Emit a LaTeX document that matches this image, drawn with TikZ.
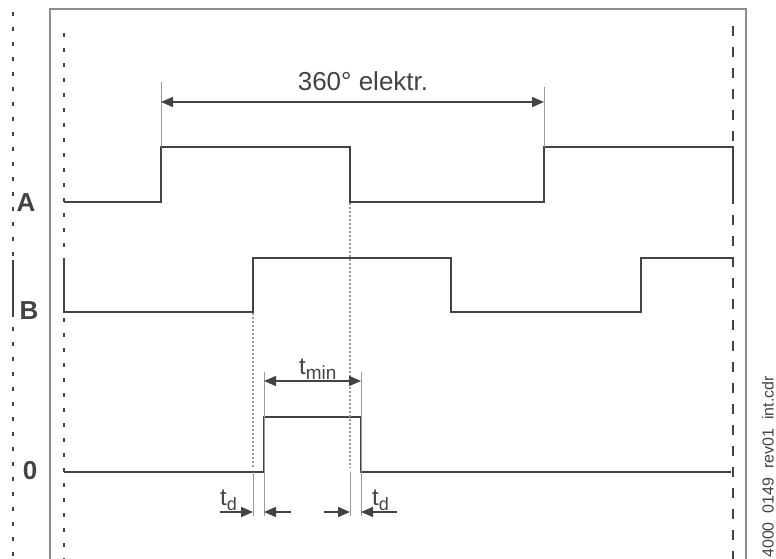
\documentclass[tikz,border=0pt]{standalone}
\usepackage{fontspec}
\setmainfont{Liberation Sans}
\usetikzlibrary{arrows.meta}
\definecolor{ink}{HTML}{434343}
\definecolor{framec}{HTML}{8C8C8C}
\definecolor{faint}{HTML}{9A9A9A}
\begin{document}
\begin{tikzpicture}[x=1pt,y=-1pt,
  sig/.style={draw=ink,line width=2.6pt,line join=miter},
  frameline/.style={draw=framec,line width=1.4pt},
  extline/.style={draw=faint,line width=0.9pt},
  fdot/.style={draw=faint,line width=1.2pt,dash pattern=on 2pt off 2pt},
  bigdot/.style={draw=ink,line width=2pt,dash pattern=on 4pt off 11pt},
  bigdash/.style={draw=ink,line width=2pt,dash pattern=on 10pt off 11pt},
  dimarrow/.style={draw=ink,line width=1.5pt,-{Triangle[length=12pt,width=10pt]}},
  dimboth/.style={draw=ink,line width=1.5pt,{Triangle[length=12pt,width=10pt]}-{Triangle[length=12pt,width=10pt]}},
  lbl/.style={text=ink,inner sep=0pt,font=\fontsize{26}{26}\selectfont\bfseries},
  txt/.style={text=ink,inner sep=0pt}
]
\useasboundingbox (0,0) rectangle (776,559);
% frame
\draw[frameline] (50,559) -- (50,9) -- (746,9) -- (746,559);
% guide lines
\draw[bigdot] (13,12) -- (13,559);
\draw[draw=ink,line width=2pt] (13,260) -- (13,317);
\draw[bigdot] (64,33) -- (64,559);
\draw[bigdash] (733,26) -- (733,559);
% signals
\draw[sig] (64,202) -- (161,202) -- (161,147) -- (350,147) -- (350,202) -- (544,202) -- (544,147) -- (733,147) -- (733,203);
\draw[sig] (64,258) -- (64,312) -- (253,312) -- (253,258) -- (451,258) -- (451,312) -- (641,312) -- (641,258) -- (733,258);
\draw[sig] (64,472) -- (264,472) -- (264,417) -- (361,417) -- (361,472) -- (731,472);
% labels
\node[lbl] (la) at (26,203) {A};
\node[lbl] (lb) at (29,311) {B};
\node[lbl] (l0) at (30,471) {0};
% 360 dimension
\coordinate (e1t) at (161,82);  \coordinate (e1b) at (161,147);
\coordinate (e2t) at (544,87);  \coordinate (e2b) at (544,147);
\draw[extline] (e1t) -- (e1b);
\draw[extline] (e2t) -- (e2b);
\coordinate (d1) at (161,102); \coordinate (d2) at (544,102);
\draw[dimboth] (d1) -- (d2);
\node[txt,anchor=base,font=\fontsize{26}{26}\selectfont] (t360) at (363,91) {360° elektr.};
% dotted projections
\draw[fdot] (350,203) -- (350,468);
\draw[fdot] (253,313) -- (253,468);
% extension lines
\draw[extline] (253,472) -- (253,516);
\draw[extline] (350,472) -- (350,516);
\draw[extline] (264,372) -- (264,516);
\draw[extline] (361,372) -- (361,516);
% tmin
\coordinate (m1) at (264,381); \coordinate (m2) at (361,381);
\draw[dimboth] (m1) -- (m2);
\node[txt,anchor=base west] (tmin) at (299,374) {\fontsize{24}{24}\selectfont t\raisebox{-5pt}{\fontsize{19}{19}\selectfont min}};
% td arrows
\coordinate (a1s) at (220,512); \coordinate (a1e) at (253,512);
\coordinate (a2s) at (291,512); \coordinate (a2e) at (264,512);
\coordinate (a3s) at (324,512); \coordinate (a3e) at (350,512);
\coordinate (a4s) at (397,512); \coordinate (a4e) at (361,512);
\draw[dimarrow] (a1s) -- (a1e);
\draw[dimarrow] (a2s) -- (a2e);
\draw[dimarrow] (a3s) -- (a3e);
\draw[dimarrow] (a4s) -- (a4e);
\node[txt,anchor=base west] (td1) at (220,505) {\fontsize{24}{24}\selectfont t\raisebox{-5pt}{\fontsize{18}{18}\selectfont d}};
\node[txt,anchor=base west] (td2) at (372,505) {\fontsize{24}{24}\selectfont t\raisebox{-5pt}{\fontsize{18}{18}\selectfont d}};
% file id
\node[txt,rotate=90,font=\fontsize{16}{16}\selectfont] (fid) at (768,467) {4000\ \ 0149\ \ rev01\ \ int.cdr};
\end{tikzpicture}
\end{document}
